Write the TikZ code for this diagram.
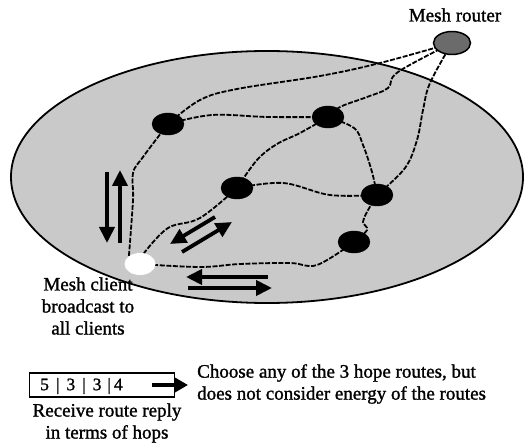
\documentclass[tikz,border=0pt]{standalone}
\usepackage{fontspec}
\setmainfont{Liberation Serif}
\newfontfamily\heavyserif[FakeBold=1.3]{Liberation Serif}
\usetikzlibrary{shapes.geometric,arrows.meta}
\pgfdeclarelayer{back}
\pgfdeclarelayer{links}
\pgfsetlayers{back,links,main}
\begin{document}
\begin{tikzpicture}[x=1pt,y=-1pt,
  hop/.style={ellipse,fill=black,draw=black,minimum width=32pt,minimum height=22pt,inner sep=0pt},
  router/.style={ellipse,fill=black!58,draw=black,line width=1.5pt,minimum width=37pt,minimum height=23pt,inner sep=0pt},
  client/.style={ellipse,fill=white,minimum width=31pt,minimum height=22pt,inner sep=0pt},
  link/.style={line width=1.8pt,dash pattern=on 5pt off 1.6pt,smooth,tension=0.6},
  flow/.style={line width=3.8pt,-{Triangle[length=16pt,width=15pt]}},
  lbl/.style={font=\heavyserif\fontsize{19}{22}\selectfont,align=center,inner sep=0pt}]
\useasboundingbox (0,0) rectangle (524,446);

% coverage area
\begin{pgfonlayer}{back}
  \draw[line width=1.8pt,fill=black!21] (267,177) ellipse [x radius=256pt, y radius=126pt];
\end{pgfonlayer}

% nodes
\node[router] (r) at (452,43) {};
\node[hop] (n1) at (168,124) {};
\node[hop] (n2) at (328,117) {};
\node[hop] (n3) at (237,188) {};
\node[hop] (n4) at (377,195) {};
\node[hop] (n5) at (354,242) {};
\node[client] (c) at (140,264) {};

% dashed routes
\begin{pgfonlayer}{links}
  \draw[link] plot coordinates {(r) (380,63) (320,76) (237,89) (200,100) (n1)};
  \draw[link] plot coordinates {(r) (398,72) (388,88) (367,97) (340,107) (n2)};
  \draw[link] plot coordinates {(r) (430,83) (423,110) (417,140) (405,168) (n4)};
  \draw[link] plot coordinates {(n1) (212,115) (268,117) (n2)};
  \draw[link] plot coordinates {(n1) (143,157) (133,173) (133,200) (c.north west)};
  \draw[link] plot coordinates {(n2) (300,133) (277,144) (257,160) (n3)};
  \draw[link] plot coordinates {(n2) (354,128) (363,145) (372,172) (n4)};
  \draw[link] plot coordinates {(n3) (283,183) (330,195) (n4)};
  \draw[link] plot coordinates {(n4) (367,212) (363,222) (367,230) (n5)};
  \draw[link] plot coordinates {(n3) (200,218) (168,228) (c.70)};
  \draw[link] plot coordinates {(c) (200,267) (240,264) (290,263) (317,265) (n5)};
\end{pgfonlayer}

% request and reply flows
\draw[flow] (107,172) -- (107,243);
\draw[flow] (120,243) -- (120,170);
\draw[flow] (215,217) -- (170,244);
\draw[flow] (182,252) -- (232,222);
\draw[flow] (268,277) -- (186,277);
\draw[flow] (188,288) -- (272,288);

% labels
\node[lbl] (lr) at (455,15) {Mesh router};
\node[lbl] (lc) at (88,306) {Mesh client\\broadcast to\\all clients};

% route reply box
\node[draw,line width=1.6pt,minimum width=145pt,minimum height=24pt,inner sep=0pt] (box) at (102,385) {};
\node[font=\heavyserif\fontsize{17.5}{18}\selectfont,inner sep=0pt,anchor=west] (hops) at (40,386)
  {5\hspace{7pt}|\hspace{7pt}3\hspace{7pt}|\hspace{7pt}3\hspace{6pt}|\hspace{3pt}4};
\coordinate (pick) at (188,385);
\draw[flow,-{Triangle[length=13pt,width=14pt]}] (152,385) -- (pick);
\node[lbl] (lb) at (107,423) {Receive route reply\\in terms of hops};
\node[lbl,align=left,anchor=west] (lch) at (197,384) {Choose any of the 3 hope routes, but\\does not consider energy of the routes};
\end{tikzpicture}
\end{document}
